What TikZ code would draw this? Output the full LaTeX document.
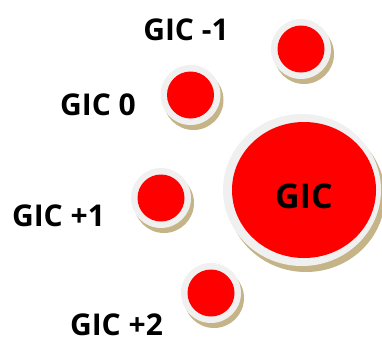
\documentclass[tikz,border=0pt]{standalone}
\usepackage{fontspec}
\setmainfont{Open Sans}
\usetikzlibrary{shapes.geometric,shadows}
\definecolor{ringgray}{HTML}{F0F0F0}
\definecolor{shadowtan}{HTML}{C4B487}
\definecolor{dotred}{HTML}{FF0000}
\tikzset{
  bub/.style={circle, fill=ringgray, minimum size=60pt, inner sep=0pt,
    drop shadow={shadow xshift=3pt, shadow yshift=-5pt, fill=shadowtan, opacity=1},
    path picture={\fill[dotred] (path picture bounding box.center) circle (23.5pt);}},
  bigbub/.style={ellipse, fill=ringgray, minimum width=158pt, minimum height=152pt, inner sep=0pt,
    drop shadow={shadow xshift=4pt, shadow yshift=-6pt, fill=shadowtan, opacity=1},
    path picture={\fill[dotred] ([xshift=2pt]path picture bounding box.center) ellipse (72pt and 68pt);},
    font=\fontsize{34}{34}\selectfont\bfseries, text=black},
  lbl/.style={anchor=base, inner sep=0pt, font=\fontsize{30}{30}\selectfont\bfseries, text=black}
}
\begin{document}
\begin{tikzpicture}[x=1pt,y=-1pt]
\useasboundingbox (0,0) rectangle (382,338);
\node[bub] (cm1) at (301,49) {};
\node[bub] (c0) at (190.5,95) {};
\node[bub] (cp1) at (161,198) {};
\node[bub] (cp2) at (211,293) {};
\node[bigbub] (big) at (302,190) {};
\node[anchor=base, inner sep=0pt, font=\fontsize{34}{34}\selectfont\bfseries] (bigt) at (304,208) {GIC};
\node[lbl] (lm1) at (186,40) {GIC -1};
\node[lbl] (l0) at (98,115) {GIC 0};
\node[lbl] (lp1) at (58.5,226) {GIC +1};
\node[lbl] (lp2) at (116.5,335) {GIC +2};
\end{tikzpicture}
\end{document}
